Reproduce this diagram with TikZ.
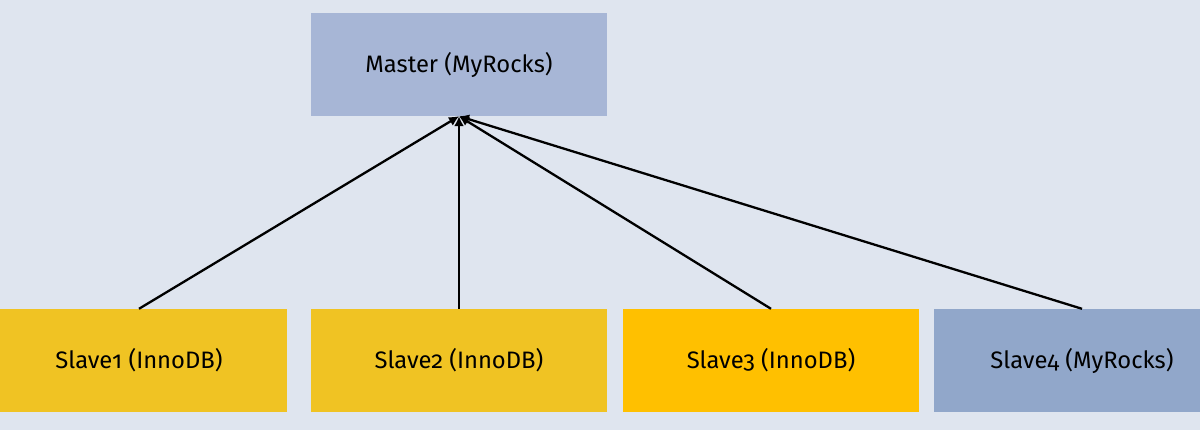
\documentclass[tikz,border=0pt]{standalone}
\usepackage{fontspec}
\setmainfont{Fira Sans}[Numbers=OldStyle]
\usetikzlibrary{arrows.meta}
\definecolor{bg}{HTML}{DFE5EF}
\definecolor{mastercol}{HTML}{A7B6D6}
\definecolor{innocol}{HTML}{F0C323}
\definecolor{innob}{HTML}{FFC000}
\definecolor{rockscol}{HTML}{91A7CA}
\begin{document}
\begin{tikzpicture}[x=1pt,y=-1pt,
  box/.style={rectangle,minimum width=296pt,minimum height=103pt,inner sep=0pt,font=\fontsize{23.8}{28}\selectfont,text=black},
  link/.style={draw=black,line width=2.3pt,-{Latex[length=10pt,width=10pt]}}]
\clip (0,0) rectangle (1200,430);
\fill[bg] (0,0) rectangle (1200,430);
\node[box,fill=mastercol] (m) at (459,64.5) {Master (MyRocks)};
\node[box,fill=innocol] (s1) at (139,360.5) {Slave1 (InnoDB)};
\node[box,fill=innocol] (s2) at (459,360.5) {Slave2 (InnoDB)};
\node[box,fill=innob] (s3) at (771,360.5) {Slave3 (InnoDB)};
\node[box,fill=rockscol] (s4) at (1082,360.5) {Slave4 (MyRocks)};
\foreach \s in {s1,s2,s3,s4}
  \draw[link] (\s.north) -- (m.south);
\end{tikzpicture}
\end{document}
